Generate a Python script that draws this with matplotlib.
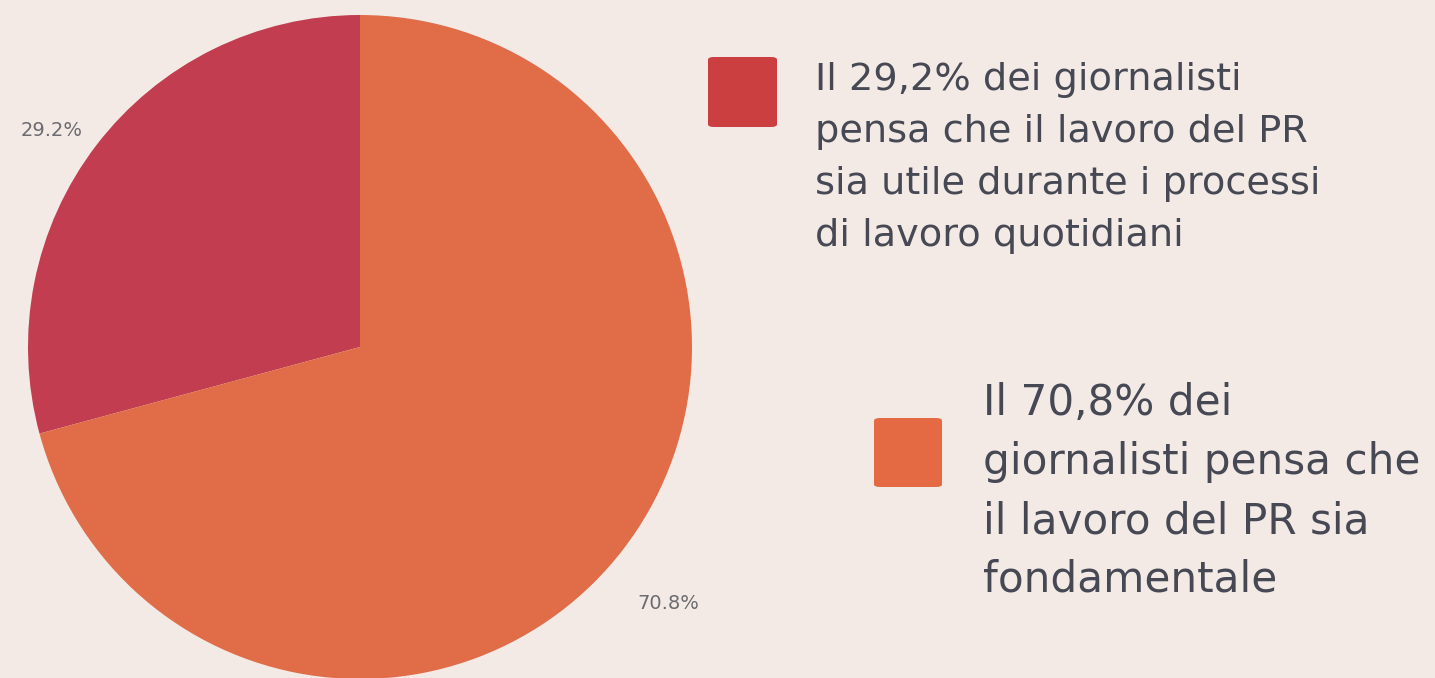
import matplotlib
matplotlib.use("Agg")
import matplotlib.pyplot as plt
import matplotlib.patches as patches

# DATI
valori = [29.2, 70.8]
etichette = ["29.2%", "70.8%"]
colori_fette = ["#C23D50", "#E06D48"]
colori_legenda = ["#CB3F40", "#E46A44"]
testi_legenda = [
    ["Il 29,2% dei giornalisti", "pensa che il lavoro del PR",
     "sia utile durante i processi", "di lavoro quotidiani"],
    ["Il 70,8% dei", "giornalisti pensa che",
     "il lavoro del PR sia", "fondamentale"],
]

SFONDO = "#F3EAE6"
W, H = 1435, 678

fig = plt.figure(figsize=(W / 100, H / 100), dpi=100, facecolor=SFONDO)

# TORTA
cx, cy, r = 360, 347, 332
ax = fig.add_axes([(cx - r) / W, (H - cy - r) / H, 2 * r / W, 2 * r / H])
ax.set_facecolor(SFONDO)
wedges, texts = ax.pie(
    valori, labels=etichette, colors=colori_fette, startangle=90,
    counterclock=True, labeldistance=1.17, radius=1,
    textprops=dict(fontsize=14, color="#6B6B70", family="DejaVu Sans"),
    wedgeprops=dict(linewidth=0),
)
for t in texts:
    x, y = t.get_position()
    t.set_position((x, y - 0.06))
    t.set_ha("center")
    t.set_va("center")
ax.set_xlim(-1, 1)
ax.set_ylim(-1, 1)
ax.set_axis_off()

# LEGENDA
def px(x, y):
    return x / W, 1 - y / H

quadrati = [(708, 57, 69, 70), (874, 418, 68, 69)]
blocchi = [(815, 90, 52, 27.5), (983, 415, 59, 30.3)]

for (qx, qy, qw, qh), colore in zip(quadrati, colori_legenda):
    x0, y1 = px(qx, qy + qh)
    rect = patches.FancyBboxPatch(
        (x0, y1), qw / W, qh / H,
        boxstyle="round,pad=0,rounding_size=0.004",
        transform=fig.transFigure, facecolor=colore, edgecolor="none",
    )
    fig.patches.append(rect)

for (tx, ty, passo, fs), righe in zip(blocchi, testi_legenda):
    for i, riga in enumerate(righe):
        x, y = px(tx, ty + i * passo)
        fig.text(x, y, riga, ha="left", va="baseline", fontsize=fs,
                 color="#464854", family="DejaVu Sans")

fig.savefig("out.png", dpi=100, facecolor=SFONDO)
